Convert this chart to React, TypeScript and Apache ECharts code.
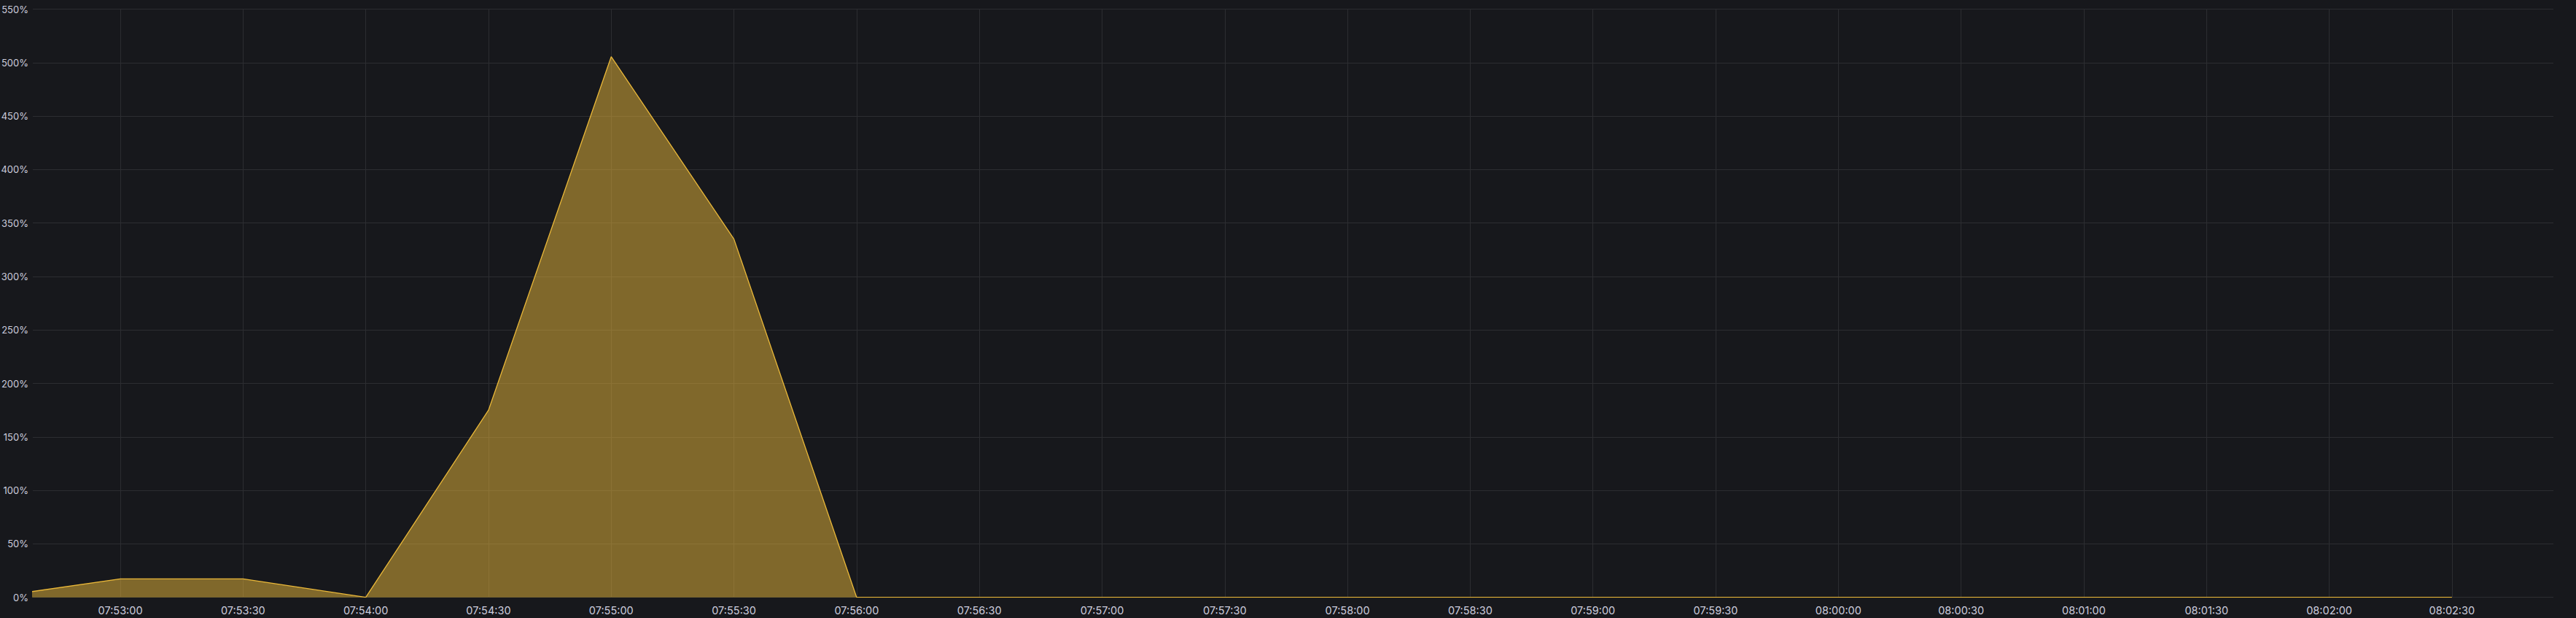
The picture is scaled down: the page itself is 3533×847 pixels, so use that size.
import React, { useEffect, useRef } from "react";
import * as echarts from "echarts";

// Sample times (HH:MM:SS) and values (%)
const times = [
  "07:52:30", "07:53:00", "07:53:30", "07:54:00", "07:54:30", "07:55:00",
  "07:55:30", "07:56:00", "07:56:30", "07:57:00", "07:57:30", "07:58:00",
  "07:58:30", "07:59:00", "07:59:30", "08:00:00", "08:00:30", "08:01:00",
  "08:01:30", "08:02:00", "08:02:30",
];
const values = [
  0.8, 17.3, 17.3, 0, 175, 505.5,
  335, 0, 0, 0, 0, 0,
  0, 0, 0, 0, 0, 0,
  0, 0, 0,
];
const viewStart = "07:52:38.6";
const viewEnd = "08:02:54.8";
const yTicks = [0, 50, 100, 150, 200, 250, 300, 350, 400, 450, 500, 550];

const toSec = (t: string) => {
  const [h, m, s] = t.split(":");
  return Number(h) * 3600 + Number(m) * 60 + Number(s);
};
const pad = (n: number) => String(n).padStart(2, "0");
const fmt = (sec: number) => {
  const s = Math.round(sec);
  return `${pad(Math.floor(s / 3600))}:${pad(Math.floor((s % 3600) / 60))}:${pad(s % 60)}`;
};

export default function App() {
  const ref = useRef<HTMLDivElement>(null);
  useEffect(() => {
    if (!ref.current) return;
    const chart = echarts.init(ref.current, undefined, { renderer: "svg" });
    const textColor = "#ccccdc";
    const gridColor = "#2c2d31";
    chart.setOption({
      animation: false,
      backgroundColor: "#17181c",
      grid: {
        left: 45,
        right: 31,
        top: 12.5,
        bottom: 28.3,
        containLabel: false,
        outerBoundsMode: "none",
      },
      xAxis: {
        type: "value",
        min: toSec(viewStart),
        max: toSec(viewEnd),
        splitNumber: 20,
        minInterval: 30,
        maxInterval: 30,
        axisLine: { show: false },
        axisTick: { show: false },
        axisLabel: {
          color: textColor,
          fontFamily: "Inter",
          fontSize: 14.5,
          margin: 10,
          showMinLabel: false,
          showMaxLabel: false,
          formatter: (v: number) => (Math.abs(v % 30) < 0.01 ? fmt(v) : ""),
        },
        splitLine: {
          show: true,
          showMinLine: false,
          showMaxLine: false,
          lineStyle: { color: gridColor, width: 1 },
        },
      },
      yAxis: {
        type: "value",
        min: yTicks[0],
        max: yTicks[yTicks.length - 1],
        interval: yTicks[1] - yTicks[0],
        axisLine: { show: false },
        axisTick: { show: false },
        axisLabel: {
          color: textColor,
          fontFamily: "Inter",
          fontSize: 13,
          margin: 6,
          formatter: (v: number) => `${v}%`,
        },
        splitLine: { show: true, lineStyle: { color: gridColor, width: 1 } },
      },
      series: [
        {
          type: "line",
          data: times.map((t, i) => [toSec(t), values[i]]),
          showSymbol: false,
          symbol: "none",
          clip: true,
          lineStyle: { color: "#EAB839", width: 1.3 },
          itemStyle: { color: "#EAB839" },
          areaStyle: { color: "#EAB839", opacity: 0.5 },
        },
      ],
    });
    return () => chart.dispose();
  }, []);
  return (
    <div
      ref={ref}
      style={{ position: "fixed", left: 0, top: 0, width: 3533, height: 847, background: "#17181c" }}
    />
  );
}
